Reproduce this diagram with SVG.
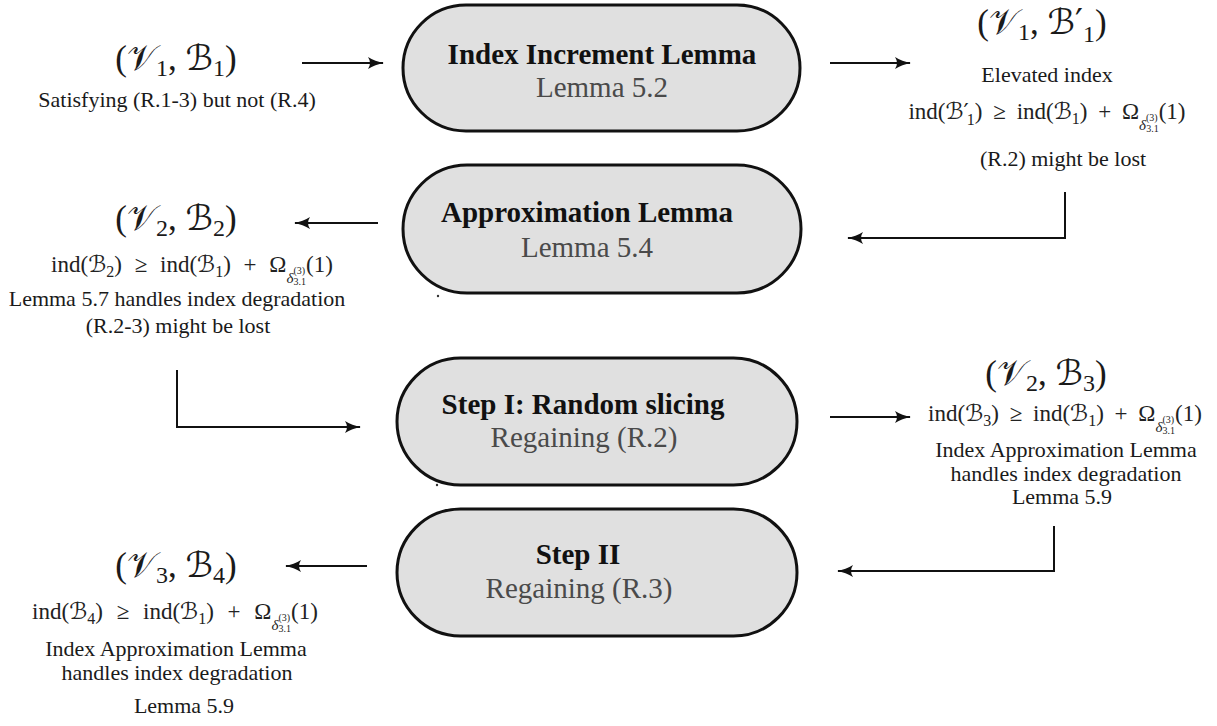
<svg xmlns="http://www.w3.org/2000/svg" width="1217" height="726" viewBox="0 0 1217 726">
<defs>
<style>
.node rect{fill:#e0e0e0;stroke:#111;stroke-width:3}
.t{font-family:"Liberation Serif","Times New Roman",serif;fill:#1a1a1a;text-anchor:middle}
.title{font-weight:bold;font-size:29px;fill:#111}
.sub{font-size:29px;fill:#4a4a4a}
.lbl{font-size:22px}
.big{font-size:35px}
.bsb{font-size:24px}
.m{font-size:23px;fill:#222}
.cal{font-family:"DejaVu Serif","DejaVu Sans","Noto Sans",serif;font-style:normal}
.sb{font-size:16px}
.d{font-size:15px;font-style:italic}
.ss{font-size:10px}
.conn path,.conn line{fill:none;stroke:#111;stroke-width:2}
</style>
<marker id="ah" markerUnits="userSpaceOnUse" markerWidth="16" markerHeight="14" viewBox="0 0 16 14" refX="15" refY="7" orient="auto">
<path d="M0,1 Q7,5.5 16,7 Q7,8.5 0,13 Q4,7 0,1 z" fill="#111"/>
</marker>
</defs>
<rect width="1217" height="726" fill="#fff"/>

<g id="node-index-increment" class="node">
<rect x="403" y="5" width="397" height="126" rx="63" ry="63"/>
<text class="t title" x="602" y="64">Index Increment Lemma</text>
<text class="t sub" x="602" y="97">Lemma 5.2</text>
</g>

<g id="node-approximation" class="node">
<rect x="403" y="165" width="398" height="128" rx="64" ry="64"/>
<text class="t title" x="587" y="222">Approximation Lemma</text>
<text class="t sub" x="587" y="257">Lemma 5.4</text>
</g>

<g id="node-step1" class="node">
<rect x="397" y="358" width="400" height="127" rx="63.5" ry="63.5"/>
<text class="t title" x="583" y="414">Step I: Random slicing</text>
<text class="t sub" x="584" y="447">Regaining (R.2)</text>
</g>

<g id="node-step2" class="node">
<rect x="397" y="509" width="400" height="127" rx="63.5" ry="63.5"/>
<text class="t title" x="578" y="564">Step II</text>
<text class="t sub" x="579" y="598">Regaining (R.3)</text>
</g>

<g id="state-v1b1">
<text class="t big" x="176" y="70">(<tspan class="cal">𝒱</tspan><tspan class="bsb" dy="6">1</tspan><tspan dy="-6">, </tspan><tspan class="cal">ℬ</tspan><tspan class="bsb" dy="6">1</tspan><tspan dy="-6">)</tspan></text>
<text class="t lbl" x="177" y="107">Satisfying (R.1-3) but not (R.4)</text>
</g>

<g id="state-v1b1p">
<text class="t big" x="1042" y="34">(<tspan class="cal">𝒱</tspan><tspan class="bsb" dy="6">1</tspan><tspan dy="-6">, </tspan><tspan class="cal">ℬ′</tspan><tspan class="bsb" dy="8">1</tspan><tspan dy="-8">)</tspan></text>
<text class="t lbl" x="1047" y="82">Elevated index</text>
<text class="t m" x="1047" y="119">ind(<tspan class="cal">ℬ′</tspan><tspan class="sb" dx="-2" dy="6">1</tspan><tspan dy="-6">) </tspan><tspan dx="5">≥ </tspan><tspan dx="5">ind(</tspan><tspan class="cal">ℬ</tspan><tspan class="sb" dy="5">1</tspan><tspan dy="-5">) </tspan><tspan dx="5">+ </tspan><tspan dx="5">Ω</tspan><tspan class="d" dy="11">δ</tspan><tspan class="ss" dy="-9">(3)</tspan><tspan class="ss" dx="-11.5" dy="11">3.1</tspan><tspan dy="-13">(1)</tspan></text>
<text class="t lbl" x="1063" y="166">(R.2) might be lost</text>
</g>

<g id="state-v2b2">
<text class="t big" x="176" y="230">(<tspan class="cal">𝒱</tspan><tspan class="bsb" dy="6">2</tspan><tspan dy="-6">, </tspan><tspan class="cal">ℬ</tspan><tspan class="bsb" dy="6">2</tspan><tspan dy="-6">)</tspan></text>
<text class="t m" x="192" y="272">ind(<tspan class="cal">ℬ</tspan><tspan class="sb" dy="5">2</tspan><tspan dy="-5">) </tspan><tspan dx="7">≥ </tspan><tspan dx="7">ind(</tspan><tspan class="cal">ℬ</tspan><tspan class="sb" dy="5">1</tspan><tspan dy="-5">) </tspan><tspan dx="7">+ </tspan><tspan dx="7">Ω</tspan><tspan class="d" dy="11">δ</tspan><tspan class="ss" dy="-9">(3)</tspan><tspan class="ss" dx="-11.5" dy="11">3.1</tspan><tspan dy="-13">(1)</tspan></text>
<text class="t lbl" x="177" y="306">Lemma 5.7 handles index degradation</text>
<text class="t lbl" x="178" y="333">(R.2-3) might be lost</text>
</g>

<g id="state-v2b3">
<text class="t big" x="1046" y="385">(<tspan class="cal">𝒱</tspan><tspan class="bsb" dy="6">2</tspan><tspan dy="-6">, </tspan><tspan class="cal">ℬ</tspan><tspan class="bsb" dy="6">3</tspan><tspan dy="-6">)</tspan></text>
<text class="t m" x="1065" y="421">ind(<tspan class="cal">ℬ</tspan><tspan class="sb" dy="5">3</tspan><tspan dy="-5">) </tspan><tspan dx="5">≥ </tspan><tspan dx="5">ind(</tspan><tspan class="cal">ℬ</tspan><tspan class="sb" dy="5">1</tspan><tspan dy="-5">) </tspan><tspan dx="5">+ </tspan><tspan dx="5">Ω</tspan><tspan class="d" dy="11">δ</tspan><tspan class="ss" dy="-9">(3)</tspan><tspan class="ss" dx="-11.5" dy="11">3.1</tspan><tspan dy="-13">(1)</tspan></text>
<text class="t lbl" x="1066" y="457">Index Approximation Lemma</text>
<text class="t lbl" x="1066" y="481">handles index degradation</text>
<text class="t lbl" x="1062" y="504">Lemma 5.9</text>
</g>

<g id="state-v3b4">
<text class="t big" x="176" y="577">(<tspan class="cal">𝒱</tspan><tspan class="bsb" dy="6">3</tspan><tspan dy="-6">, </tspan><tspan class="cal">ℬ</tspan><tspan class="bsb" dy="6">4</tspan><tspan dy="-6">)</tspan></text>
<text class="t m" x="175" y="619">ind(<tspan class="cal">ℬ</tspan><tspan class="sb" dy="5">4</tspan><tspan dy="-5">) </tspan><tspan dx="8">≥ </tspan><tspan dx="8">ind(</tspan><tspan class="cal">ℬ</tspan><tspan class="sb" dy="5">1</tspan><tspan dy="-5">) </tspan><tspan dx="8">+ </tspan><tspan dx="8">Ω</tspan><tspan class="d" dy="11">δ</tspan><tspan class="ss" dy="-9">(3)</tspan><tspan class="ss" dx="-11.5" dy="11">3.1</tspan><tspan dy="-13">(1)</tspan></text>
<text class="t lbl" x="176" y="656">Index Approximation Lemma</text>
<text class="t lbl" x="177" y="680">handles index degradation</text>
<text class="t lbl" x="184" y="713">Lemma 5.9</text>
</g>

<g id="connectors" class="conn">
<line x1="302" y1="63" x2="383" y2="63" marker-end="url(#ah)"/>
<line x1="830" y1="63" x2="910" y2="63" marker-end="url(#ah)"/>
<path d="M1065,192 V238 H848" marker-end="url(#ah)"/>
<line x1="378" y1="223" x2="295" y2="223" marker-end="url(#ah)"/>
<path d="M177,370 V427 H360" marker-end="url(#ah)"/>
<line x1="830" y1="417" x2="910" y2="417" marker-end="url(#ah)"/>
<path d="M1054,526 V571 H838" marker-end="url(#ah)"/>
<line x1="367" y1="566" x2="286" y2="566" marker-end="url(#ah)"/>
</g>

<g id="specks" fill="#333">
<circle cx="438" cy="296" r="1.2"/>
<circle cx="437" cy="485" r="1.2"/>
</g>
</svg>
